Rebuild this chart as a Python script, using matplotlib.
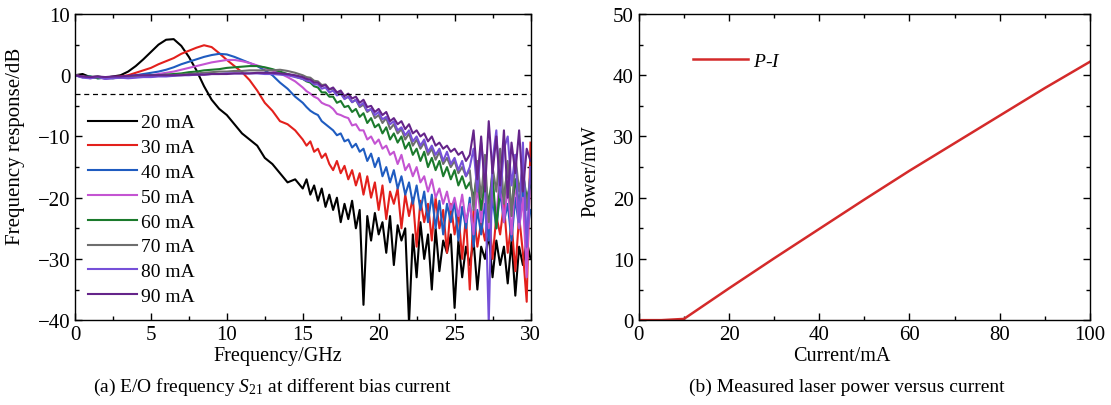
"""Recreate the E/O S21 response and P-I curve figure."""

import numpy as np
import matplotlib

matplotlib.use("Agg")
import matplotlib.pyplot as plt
from matplotlib.ticker import MultipleLocator

plt.rcParams["font.family"] = ["Liberation Serif", "DejaVu Serif"]
plt.rcParams["mathtext.fontset"] = "custom"
plt.rcParams["mathtext.rm"] = "Liberation Serif"
plt.rcParams["mathtext.it"] = "Liberation Serif:italic"

# ---- panel (a): frequency response
# 0.5 GHz steps up to 14.5 GHz, then 0.25 GHz steps where the traces get noisy
freq_ghz = np.concatenate([np.arange(0, 14.51, 0.5), np.arange(15, 30.01, 0.25)])

s21_20ma = [0, 0.2, -0.3, -0.2, -0.4, -0.2, 0, 0.6, 1.5, 2.6, 3.8, 5.0, 5.8, 5.9, 4.8, 3.0,
            0.8, -1.8, -4.0, -5.5, -6.5, -8.0, -9.5, -10.5, -11.5, -13.5, -14.5, -16.0, -17.5,
            -17.0,
            -18.5, -17.0, -19.5, -18.0, -20.5, -18.5, -21.5, -19.5, -22.0, -20.0, -24.0, -21.0,
            -23.5, -20.5, -25.0, -22.0, -37.5, -23.0, -27.0, -22.5, -26.0, -24.0, -29.0, -23.0,
            -31.0, -24.5, -27.0, -25.0, -40.5, -26.0, -33.0, -24.0, -30.0, -26.0, -35.0, -25.0,
            -32.0, -27.0, -29.0, -26.0, -38.0, -27.0, -33.0, -28.0, -31.0, -27.0, -35.0, -28.0,
            -30.0, -26.0, -33.0, -27.0, -31.0, -28.0, -34.0, -27.0, -36.0, -28.0, -31.0, -27.0,
            -30.0]
s21_30ma = [0, -0.2, -0.4, -0.3, -0.5, -0.3, -0.2, 0, 0.4, 0.8, 1.2, 1.8, 2.3, 2.8, 3.5, 4.0,
            4.5, 4.9, 4.6, 3.6, 2.5, 1.5, 0.5, -0.8, -2.5, -4.5, -5.8, -7.5, -8.0, -9.0,
            -10.5, -11.5, -10.8, -12.5, -12.0, -13.5, -12.8, -14.5, -15.5, -14.0, -16.0, -14.8,
            -17.0, -15.5, -18.0, -16.0, -19.5, -16.5, -20.0, -17.5, -22.0, -18.0, -23.5, -19.0,
            -21.0, -18.5, -25.0, -19.5, -23.0, -20.0, -28.0, -20.5, -24.0, -21.0, -27.0, -20.0,
            -25.0, -22.0, -29.0, -21.0, -26.0, -22.5, -30.0, -23.0, -35.0, -22.0, -28.0, -24.0,
            -27.0, -22.0, -30.0, -23.0, -26.0, -21.0, -29.0, -24.0, -32.0, -23.0, -29.0, -37.0,
            -11.0]
s21_40ma = [0, -0.3, -0.2, -0.5, -0.4, -0.3, -0.3, -0.2, 0, 0.2, 0.4, 0.6, 0.9, 1.3, 1.8, 2.2,
            2.6, 3.0, 3.3, 3.5, 3.4, 3.0, 2.5, 2.0, 1.5, 0.8, 0, -1.2, -2.2, -3.5,
            -4.5, -5.2, -5.8, -6.2, -6.5, -7.5, -8.0, -8.5, -9.0, -9.8, -9.5, -10.8,
            -10.5, -11.8, -11.2, -12.5, -12.0, -14.0, -12.8, -15.0, -13.5, -16.5, -15.0, -17.5,
            -15.5, -18.5, -16.5, -19.5, -17.5, -21.0, -18.0, -22.0, -19.0, -24.0, -19.5, -25.0,
            -20.5, -26.0, -21.0, -24.0, -20.5, -27.0, -21.5, -25.0, -20.0, -28.0, -22.0, -26.0,
            -21.0, -27.0, -20.0, -25.0, -19.0, -24.0, -21.0, -27.0, -20.0, -25.0, -19.0, -26.0,
            -22.0]
s21_50ma = [0, -0.2, -0.5, -0.3, -0.6, -0.4, -0.3, -0.3, -0.2, 0, 0, 0.2, 0.4, 0.6, 0.9, 1.2,
            1.5, 1.8, 2.1, 2.3, 2.5, 2.5, 2.3, 2.0, 1.6, 1.2, 0.8, 0.3, -0.3, -1.0,
            -2.0, -2.6, -3.0, -3.5, -3.8, -4.5, -4.8, -5.0, -5.5, -6.3, -6.5, -6.8,
            -7.0, -8.2, -8.0, -9.0, -9.0, -10.5, -10.0, -11.2, -10.5, -12.0, -11.5, -13.0,
            -12.5, -14.5, -13.0, -15.5, -14.5, -16.5, -15.0, -17.5, -16.5, -19.0, -17.0, -20.0,
            -18.5, -21.0, -19.0, -22.0, -20.0, -23.0, -19.5, -24.0, -21.0, -26.0, -18.0, -24.0,
            -17.0, -25.0, -19.0, -23.0, -16.0, -24.0, -18.0, -26.0, -17.0, -25.0, -20.0, -33.0,
            -15.0]
s21_60ma = [0, -0.3, -0.2, -0.5, -0.4, -0.5, -0.3, -0.3, -0.2, -0.1, 0, 0, 0.1, 0.2, 0.3, 0.5,
            0.6, 0.8, 0.9, 1.0, 1.2, 1.3, 1.4, 1.5, 1.5, 1.3, 1.0, 0.6, 0.2, -0.2,
            -0.6, -1.0, -1.2, -1.8, -2.0, -2.8, -2.8, -3.5, -3.5, -4.5, -4.2, -5.2,
            -5.0, -6.0, -5.5, -6.8, -6.2, -7.8, -7.0, -8.5, -8.0, -9.5, -8.5, -10.5,
            -9.5, -11.0, -10.0, -12.0, -11.0, -13.0, -12.0, -14.0, -12.5, -15.0, -13.5, -15.5,
            -14.0, -16.5, -15.0, -17.0, -15.5, -18.0, -16.5, -18.5, -17.5, -20.0, -16.0, -22.0,
            -17.0, -21.0, -16.0, -25.0, -18.0, -20.0, -15.0, -22.0, -17.0, -21.0, -16.0, -20.0,
            -18.0]
s21_70ma = [0, -0.2, -0.4, -0.3, -0.5, -0.4, -0.4, -0.3, -0.3, -0.2, -0.2, -0.1, 0, 0, 0.1,
            0.2, 0.3, 0.4, 0.5, 0.6, 0.6, 0.7, 0.7, 0.8, 0.8, 0.8, 0.8, 0.9, 0.7, 0.4,
            0.0, -0.3, -0.4, -0.9, -1.0, -1.6, -1.5, -2.3, -2.2, -3.0, -2.8, -3.8,
            -3.5, -4.4, -4.0, -5.2, -4.8, -6.0, -5.5, -7.0, -6.5, -7.8, -7.0, -8.8,
            -8.0, -9.5, -8.8, -10.5, -9.5, -11.5, -10.5, -12.0, -11.0, -13.0, -12.0, -13.8,
            -12.5, -14.5, -13.5, -15.0, -14.0, -16.0, -15.0, -16.5, -15.5, -22.0, -14.0, -20.0,
            -13.0, -24.0, -15.0, -19.0, -12.0, -21.0, -14.0, -23.0, -13.0, -19.0, -15.0, -22.0,
            -16.0]
s21_80ma = [0, -0.4, -0.5, -0.3, -0.6, -0.5, -0.4, -0.5, -0.4, -0.3, -0.3, -0.2, -0.2, -0.1, 0,
            0, 0.1, 0.1, 0.2, 0.2, 0.3, 0.3, 0.3, 0.3, 0.3, 0.2, 0.2, 0.1, 0, -0.3,
            -0.6, -0.9, -1.0, -1.5, -1.5, -2.2, -2.0, -2.8, -2.5, -3.3, -3.0, -3.9,
            -3.5, -4.4, -4.0, -5.0, -4.5, -5.8, -5.5, -6.5, -6.0, -7.2, -6.8, -8.0,
            -7.5, -9.0, -8.5, -9.8, -9.0, -10.8, -10.0, -11.5, -10.5, -12.5, -11.5, -13.0,
            -12.0, -14.0, -12.5, -14.5, -13.5, -15.5, -14.0, -16.5, -15.0, -12.0, -19.0, -11.0,
            -17.0, -40.5, -14.0, -9.0, -20.0, -12.0, -10.0, -18.0, -13.0, -24.0, -11.0, -28.0,
            -15.0]
s21_90ma = [0, -0.2, -0.3, -0.2, -0.3, -0.2, -0.2, -0.1, 0, 0, 0, 0, 0, 0, 0, 0.1, 0.1, 0.1,
            0.2, 0.2, 0.2, 0.3, 0.3, 0.3, 0.4, 0.4, 0.4, 0.3, 0.2, 0,
            -0.3, -0.6, -0.7, -1.2, -1.2, -1.8, -1.6, -2.3, -2.0, -2.8, -2.5, -3.4,
            -3.0, -3.8, -3.5, -4.5, -4.0, -5.2, -5.0, -6.0, -5.5, -6.5, -6.0, -7.5,
            -7.0, -8.0, -7.5, -8.8, -8.0, -9.5, -9.0, -10.0, -9.5, -10.8, -10.0, -11.5,
            -11.0, -12.0, -11.5, -12.5, -12.0, -13.0, -12.5, -14.0, -13.0, -9.0, -17.0, -10.0,
            -19.0, -7.5, -16.0, -10.0, -18.0, -9.0, -20.0, -11.0, -16.0, -9.0, -19.0, -12.0,
            -14.0]

bias_labels = ["20 mA", "30 mA", "40 mA", "50 mA", "60 mA", "70 mA", "80 mA", "90 mA"]
bias_colors = ["#000000", "#e3201c", "#1f5cc0", "#c454d2", "#1b7a2c", "#6e6e6e", "#7650d8", "#65248a"]
s21_curves = [s21_20ma, s21_30ma, s21_40ma, s21_50ma, s21_60ma, s21_70ma, s21_80ma, s21_90ma]

# ---- panel (b): P-I curve
current_ma = [0, 5, 10, 15, 20, 30, 40, 50, 60, 70, 80, 90, 100]
power_mw = [0, 0, 0.2, 2.7, 5.2, 10.1, 14.9, 19.7, 24.4, 28.9, 33.4, 37.9, 42.2]


def style_axes(ax):
    ax.tick_params(which="both", direction="in", top=True, right=True, labelsize=15, width=1)
    ax.tick_params(which="major", length=5)
    ax.tick_params(which="minor", length=3)
    for spine in ax.spines.values():
        spine.set_linewidth(1)


def main():
    fig = plt.figure(figsize=(11.11, 4.06), dpi=100)
    ax_a = fig.add_axes([0.0675, 0.209, 0.41, 0.754])
    ax_b = fig.add_axes([0.575, 0.209, 0.406, 0.754])

    for values, label, color in zip(s21_curves, bias_labels, bias_colors):
        ax_a.plot(freq_ghz, values, color=color, lw=1.5, label=label)
    ax_a.axhline(-3, color="black", lw=0.9, ls=(0, (4, 3)))
    ax_a.set_xlim(0, 30)
    ax_a.set_ylim(-40, 10)
    ax_a.xaxis.set_major_locator(MultipleLocator(5))
    ax_a.xaxis.set_minor_locator(MultipleLocator(2.5))
    ax_a.yaxis.set_major_locator(MultipleLocator(10))
    ax_a.yaxis.set_minor_locator(MultipleLocator(5))
    style_axes(ax_a)
    ax_a.set_xlabel("Frequency/GHz", fontsize=14.5)
    ax_a.set_ylabel("Frequency response/dB", fontsize=15)
    ax_a.xaxis.set_label_coords(0.446, -0.085)
    ax_a.yaxis.set_label_coords(-0.11, 0.57)
    ax_a.legend(loc="upper left", bbox_to_anchor=(0.029, 0.674), frameon=False, fontsize=14,
                handlelength=2.5, handletextpad=0.2, labelspacing=0.37, borderpad=0,
                borderaxespad=0)

    ax_b.plot(current_ma, power_mw, color="#d42a2a", lw=1.8, label="$P$-$I$")
    ax_b.set_xlim(0, 100)
    ax_b.set_ylim(0, 50)
    ax_b.xaxis.set_major_locator(MultipleLocator(20))
    ax_b.xaxis.set_minor_locator(MultipleLocator(10))
    ax_b.yaxis.set_major_locator(MultipleLocator(10))
    ax_b.yaxis.set_minor_locator(MultipleLocator(5))
    style_axes(ax_b)
    ax_b.set_xlabel("Current/mA", fontsize=14.5)
    ax_b.set_ylabel("Power/mW", fontsize=14.5)
    ax_b.xaxis.set_label_coords(0.45, -0.085)
    ax_b.yaxis.set_label_coords(-0.086, 0.49)
    ax_b.legend(loc="center left", bbox_to_anchor=(0.12, 0.846), frameon=False, fontsize=14,
                handlelength=2.85, handletextpad=0.25, borderpad=0, borderaxespad=0)

    fig.text(272 / 1111, 1 - 387 / 406, "(a) E/O frequency $S_{21}$ at different bias current",
             ha="center", va="center", fontsize=14)
    fig.text(847 / 1111, 1 - 387 / 406, "(b) Measured laser power versus current",
             ha="center", va="center", fontsize=14)

    fig.savefig("out.png", dpi=100)
    plt.close(fig)


if __name__ == "__main__":
    main()
